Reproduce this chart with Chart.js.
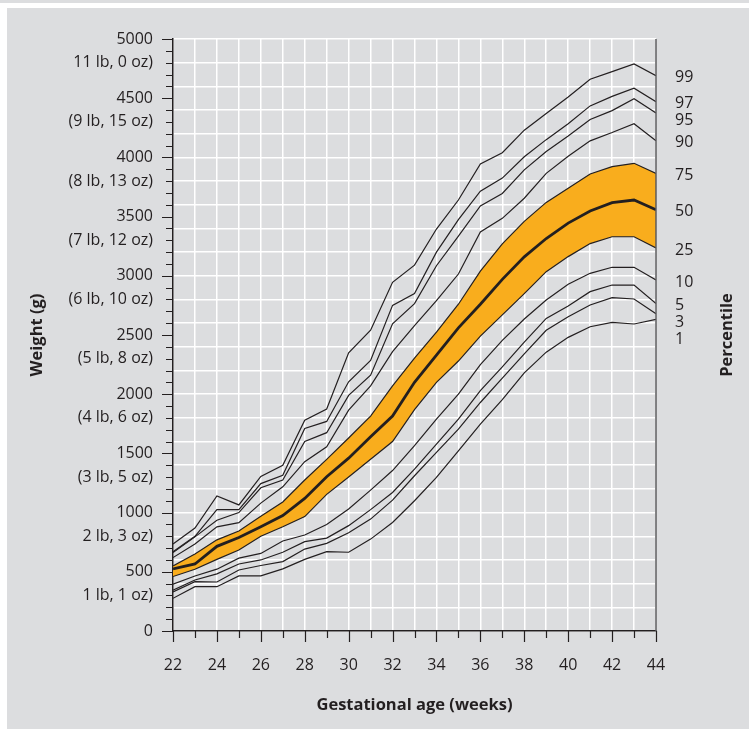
<!DOCTYPE html>
<html>
<head>
<meta charset="utf-8">
<script src="https://cdn.jsdelivr.net/npm/chart.js@4.4.1/dist/chart.umd.min.js"></script>
<style>
  html, body { margin: 0; padding: 0; background: #fff; }
  #band { position: absolute; left: 0; top: 0; width: 749px; height: 3px; background: #dcdddf; }
  #panel { position: absolute; left: 7px; top: 8px; width: 742px; height: 721px; background: #dcdddf; }
</style>
</head>
<body>
<div id="band"></div>
<div id="panel"><canvas id="growthChart" width="742" height="721"></canvas></div>
<script>
// gestational age (weeks) and weight percentiles (g)
const weeks = [22, 23, 24, 25, 26, 27, 28, 29, 30, 31, 32, 33, 34, 35, 36, 37, 38, 39, 40, 41, 42, 43, 44];

const p99 = [735, 870, 1140, 1065, 1305, 1400, 1780, 1875, 2350, 2540, 2945, 3090, 3395, 3640, 3945, 4040, 4230, 4370, 4510, 4660, 4725, 4790, 4690];
const p97 = [670, 800, 1025, 1025, 1245, 1315, 1710, 1770, 2105, 2285, 2750, 2850, 3200, 3475, 3715, 3825, 4005, 4150, 4285, 4435, 4515, 4585, 4470];
const p95 = [662, 795, 935, 1000, 1210, 1275, 1600, 1675, 1990, 2160, 2595, 2765, 3085, 3335, 3590, 3695, 3895, 4050, 4180, 4320, 4395, 4495, 4375];
const p90 = [620, 735, 880, 915, 1080, 1218, 1430, 1556, 1865, 2070, 2360, 2580, 2790, 3015, 3370, 3485, 3655, 3865, 4010, 4140, 4210, 4285, 4140];
const p75 = [550, 650, 770, 845, 970, 1090, 1275, 1450, 1630, 1815, 2070, 2305, 2525, 2760, 3040, 3270, 3460, 3620, 3740, 3860, 3922, 3950, 3865];
const p50 = [525, 566, 715, 790, 880, 975, 1120, 1303, 1460, 1640, 1815, 2100, 2330, 2560, 2760, 2970, 3160, 3315, 3445, 3548, 3618, 3640, 3558];
const p25 = [460, 521, 605, 684, 800, 880, 966, 1154, 1300, 1450, 1600, 1870, 2100, 2280, 2490, 2670, 2850, 3035, 3162, 3272, 3330, 3330, 3235];
const p10 = [395, 465, 522, 615, 655, 760, 811, 900, 1030, 1190, 1355, 1565, 1790, 2000, 2250, 2455, 2635, 2796, 2928, 3021, 3072, 3072, 2965];
const p5 = [345, 431, 483, 566, 600, 665, 755, 785, 890, 1025, 1170, 1367, 1578, 1790, 2030, 2230, 2440, 2640, 2745, 2866, 2922, 2922, 2765];
const p3 = [330, 417, 414, 515, 553, 586, 692, 740, 830, 945, 1105, 1311, 1508, 1705, 1930, 2135, 2340, 2540, 2655, 2753, 2815, 2804, 2680];
const p1 = [276, 374, 374, 465, 465, 525, 605, 670, 665, 776, 917, 1100, 1297, 1522, 1747, 1955, 2180, 2355, 2480, 2570, 2606, 2593, 2632];

const curves = [p99, p97, p95, p90, p75, p50, p25, p10, p5, p3, p1];
const percentiles = ['99', '97', '95', '90', '75', '50', '25', '10', '5', '3', '1'];

// imperial equivalents printed under each gram label
const poundTickValues = [4800, 4300, 3800, 3300, 2800, 2300, 1800, 1300, 800, 300];
const poundTickLabels = ['11 lb, 0 oz)', '(9 lb, 15 oz)', '(8 lb, 13 oz)', '(7 lb, 12 oz)', '(6 lb, 10 oz)',
  '(5 lb, 8 oz)', '(4 lb, 6 oz)', '(3 lb, 5 oz)', '2 lb, 3 oz)', '1 lb, 1 oz)'];

const INK = '#231f20';
const ORANGE = '#f9ad1d';
const FONT = '"Open Sans", "Noto Sans", sans-serif';

Chart.defaults.font.family = FONT;
Chart.defaults.color = INK;

// the 75th curve carries the band fill, so it is drawn first; the median goes on top
const datasets = curves.map((vals, i) => ({
    label: percentiles[i],
    data: weeks.map((w, j) => ({ x: w, y: vals[j] })),
    borderColor: INK,
    borderWidth: percentiles[i] === '50' ? 2.8 : 1.2,
    backgroundColor: ORANGE,
    fill: percentiles[i] === '75' ? '+2' : false,
    order: percentiles[i] === '75' ? 10 : (percentiles[i] === '50' ? 0 : 1),
    pointRadius: 0,
    tension: 0,
}));

// tick marks, right frame line, percentile labels and right title
const chartDecor = {
    id: 'chartDecor',
    afterDraw(chart) {
        const { ctx, chartArea, scales: { x, y } } = chart;
        ctx.save();
        ctx.strokeStyle = INK;
        ctx.lineWidth = 1.2;
        ctx.beginPath();
        y.ticks.forEach(t => {
            const py = Math.round(y.getPixelForValue(t.value)) + 0.5;
            const len = Math.round(t.value) % 500 === 0 ? 11 : 7;
            ctx.moveTo(chartArea.left - len, py);
            ctx.lineTo(chartArea.left, py);
        });
        x.ticks.forEach(t => {
            const px = Math.round(x.getPixelForValue(t.value)) + 0.5;
            const len = Math.round(t.value) % 2 === 0 ? 11 : 7;
            ctx.moveTo(px, chartArea.bottom);
            ctx.lineTo(px, chartArea.bottom + len);
        });
        ctx.stroke();

        ctx.strokeStyle = '#58595b';
        ctx.lineWidth = 1.5;
        ctx.beginPath();
        ctx.moveTo(chartArea.right, chartArea.top);
        ctx.lineTo(chartArea.right, chartArea.bottom);
        ctx.stroke();

        ctx.fillStyle = INK;
        ctx.font = '16px ' + FONT;
        ctx.textAlign = 'left';
        ctx.textBaseline = 'middle';
        let prev = -Infinity;
        curves.forEach((vals, i) => {
            let py = y.getPixelForValue(vals[vals.length - 1]);
            if (py < prev + 17) py = prev + 17;
            prev = py;
            ctx.fillText(percentiles[i], chartArea.right + 19, py + 2);
        });

        ctx.font = 'bold 16.5px ' + FONT;
        ctx.textAlign = 'center';
        ctx.translate(chartArea.right + 71, (chartArea.top + chartArea.bottom) / 2);
        ctx.rotate(-Math.PI / 2);
        ctx.fillText('Percentile', 0, 0);
        ctx.restore();
    }
};

new Chart(document.getElementById('growthChart'), {
    type: 'line',
    data: { datasets: datasets },
    options: {
        responsive: false,
        animation: false,
        devicePixelRatio: 1,
        layout: { padding: { left: 0, top: 31, right: 93, bottom: 0 } },
        plugins: {
            legend: { display: false },
            tooltip: { enabled: false },
        },
        scales: {
            x: {
                type: 'linear',
                min: 22,
                max: 44,
                afterFit: (scale) => { scale.height = 98; },
                grid: { color: '#ffffff', lineWidth: 1.5, drawTicks: false },
                border: { color: INK, width: 1.5 },
                ticks: {
                    stepSize: 1,
                    autoSkip: false,
                    maxRotation: 0,
                    padding: 25,
                    font: { size: 16 },
                    callback: (v) => (Math.round(v) % 2 === 0 ? String(v) : ''),
                },
                title: {
                    display: true,
                    text: 'Gestational age (weeks)',
                    font: { size: 16.5, weight: 'bold' },
                    padding: { top: 0, bottom: 14 },
                },
            },
            y: {
                min: 0,
                max: 5000,
                afterFit: (scale) => { scale.width = 166; },
                grid: {
                    color: (c) => (c.tick && Math.round(c.tick.value) % 200 === 0 ? '#ffffff' : 'rgba(0,0,0,0)'),
                    lineWidth: 1.5,
                    drawTicks: false,
                },
                border: { color: INK, width: 1.5 },
                ticks: {
                    stepSize: 100,
                    maxTicksLimit: 60,
                    autoSkip: false,
                    padding: 20,
                    font: { size: 16 },
                    callback: (v) => {
                        const r = Math.round(v);
                        if (r % 500 === 0) return String(r);
                        const k = poundTickValues.indexOf(r);
                        return k >= 0 ? poundTickLabels[k] : '';
                    },
                },
                title: {
                    display: true,
                    text: 'Weight (g)',
                    font: { size: 16.5, weight: 'bold' },
                    padding: { top: 20, bottom: 0 },
                },
            },
        },
    },
    plugins: [chartDecor],
});
</script>
</body>
</html>
